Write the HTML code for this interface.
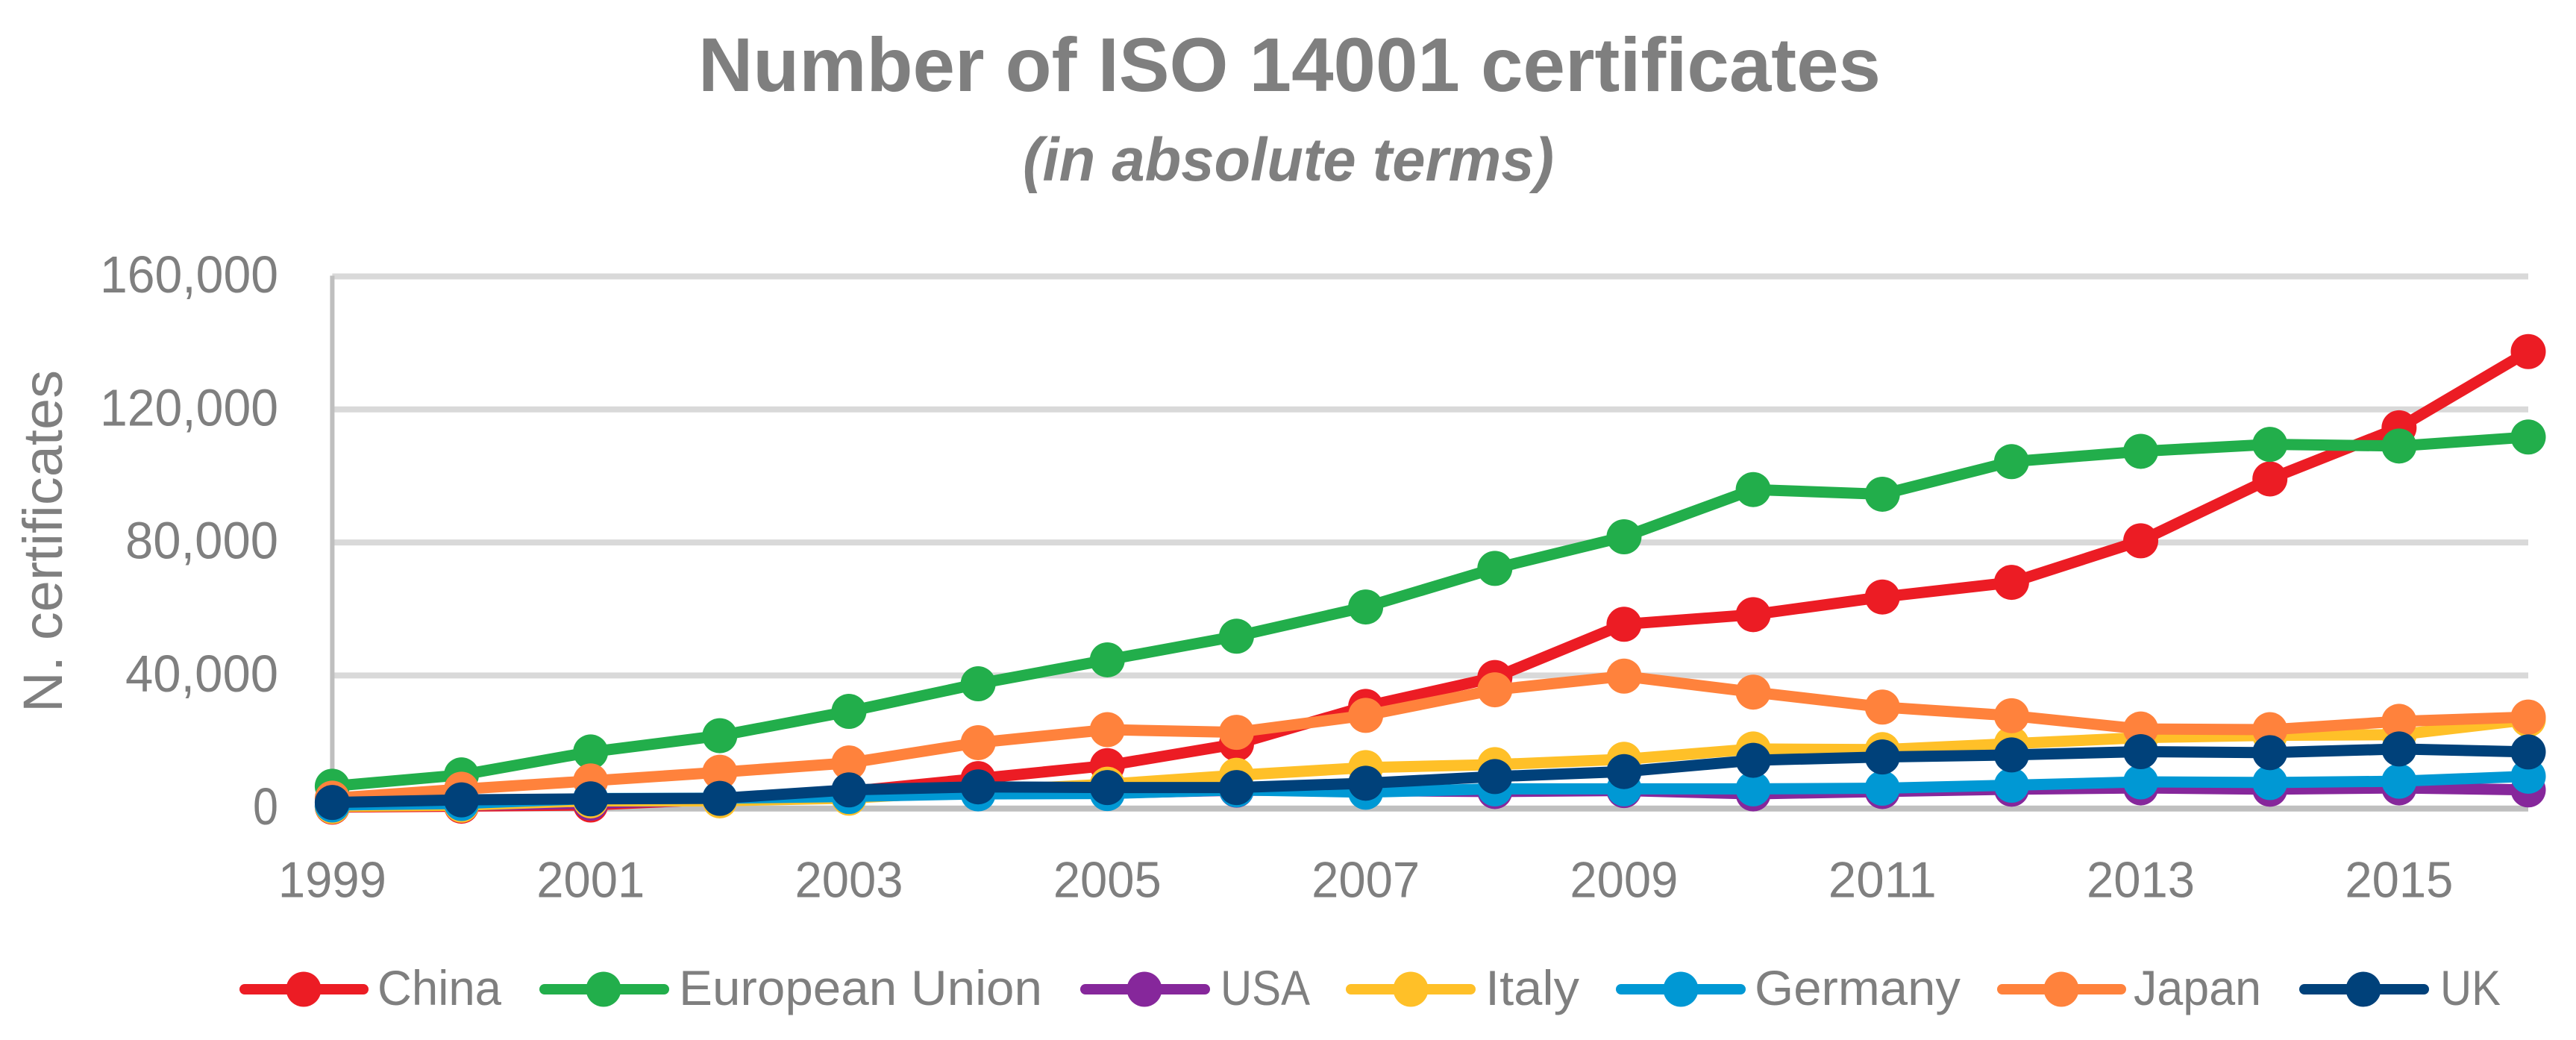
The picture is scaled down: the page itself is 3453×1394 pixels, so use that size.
<!DOCTYPE html>
<html lang="en">
<head>
<meta charset="utf-8">
<title>Number of ISO 14001 certificates</title>
<style>
html,body{margin:0;padding:0;background:#fff;width:3453px;height:1394px;overflow:hidden}
svg{display:block}
text{font-family:"Liberation Sans",sans-serif;fill:#7f7f7f}
</style>
</head>
<body>
<svg id="chart" xmlns="http://www.w3.org/2000/svg" width="3453" height="1394" viewBox="0 0 3453 1394">
  <rect width="3453" height="1394" fill="#ffffff"/>
  <text x="936" y="122" font-size="102" font-weight="700" textLength="1585" lengthAdjust="spacingAndGlyphs">Number of ISO 14001 certificates</text>
  <text x="1371" y="242" font-size="82" font-weight="700" font-style="italic" textLength="712" lengthAdjust="spacingAndGlyphs">(in absolute terms)</text>
  <text transform="translate(83,955) rotate(-90)" x="0" y="0" font-size="74" textLength="459" lengthAdjust="spacingAndGlyphs">N. certificates</text>
  <g id="grid"></g>
  <g id="yticks"></g>
  <g id="xticks"></g>
  <g id="series"></g>

  <g>
    <g>
      <line x1="328" y1="1326" x2="487" y2="1326" stroke="#ec1c24" stroke-width="14" stroke-linecap="round"/>
      <circle cx="407" cy="1326" r="23.5" fill="#ec1c24"/>
      <text x="506" y="1347" font-size="66" textLength="166" lengthAdjust="spacingAndGlyphs">China</text>
    </g>
    <g>
      <line x1="730" y1="1326" x2="890" y2="1326" stroke="#22ae4b" stroke-width="14" stroke-linecap="round"/>
      <circle cx="809" cy="1326" r="23.5" fill="#22ae4b"/>
      <text x="910" y="1347" font-size="66" textLength="487" lengthAdjust="spacingAndGlyphs">European Union</text>
    </g>
    <g>
      <line x1="1455" y1="1326" x2="1615" y2="1326" stroke="#86279b" stroke-width="14" stroke-linecap="round"/>
      <circle cx="1534" cy="1326" r="23.5" fill="#86279b"/>
      <text x="1636" y="1347" font-size="66" textLength="120" lengthAdjust="spacingAndGlyphs">USA</text>
    </g>
    <g>
      <line x1="1811" y1="1326" x2="1971" y2="1326" stroke="#ffc028" stroke-width="14" stroke-linecap="round"/>
      <circle cx="1891" cy="1326" r="23.5" fill="#ffc028"/>
      <text x="1991" y="1347" font-size="66" textLength="126" lengthAdjust="spacingAndGlyphs">Italy</text>
    </g>
    <g>
      <line x1="2173" y1="1326" x2="2333" y2="1326" stroke="#0098d4" stroke-width="14" stroke-linecap="round"/>
      <circle cx="2253" cy="1326" r="23.5" fill="#0098d4"/>
      <text x="2352" y="1347" font-size="66" textLength="276" lengthAdjust="spacingAndGlyphs">Germany</text>
    </g>
    <g>
      <line x1="2684" y1="1326" x2="2843" y2="1326" stroke="#ff823c" stroke-width="14" stroke-linecap="round"/>
      <circle cx="2763" cy="1326" r="23.5" fill="#ff823c"/>
      <text x="2860" y="1347" font-size="66" textLength="171" lengthAdjust="spacingAndGlyphs">Japan</text>
    </g>
    <g>
      <line x1="3089" y1="1326" x2="3249" y2="1326" stroke="#00417a" stroke-width="14" stroke-linecap="round"/>
      <circle cx="3168" cy="1326" r="23.5" fill="#00417a"/>
      <text x="3271" y="1347" font-size="66" textLength="81" lengthAdjust="spacingAndGlyphs">UK</text>
    </g>
  </g>
</svg>
<script>
const years = [1999,2000,2001,2002,2003,2004,2005,2006,2007,2008,2009,2010,2011,2012,2013,2014,2015,2016];
const yTickValues = [0,40000,80000,120000,160000];
const xTickLabels = [1999,2001,2003,2005,2007,2009,2011,2013,2015];
const china = [400,700,1050,2800,5100,9000,12900,19400,30700,39400,55400,58300,63600,68000,80500,99100,114500,137400];
const europeanUnion = [6700,10100,17000,21900,29200,37500,44700,51800,60600,72200,81700,95900,94500,104300,107400,109500,109000,111700];
const usa = [600,1000,1600,2600,3500,4700,4600,5500,5400,5100,5400,4400,5100,5800,6200,5800,6200,5600];
const italy = [600,1000,2300,2300,3100,5300,7300,10000,12300,13200,14800,17900,17700,19500,21300,22000,22200,26700];
const germany = [1050,1500,3000,3100,3600,4400,4500,5600,4900,5900,5900,5900,6100,7000,8000,7800,8200,9700];
const japan = [3100,5800,8300,10900,13700,19800,23700,22900,28000,35700,39800,35000,30500,27900,23900,23700,26200,27500];
const uk = [1800,2600,2900,3050,5600,6500,6300,6300,7600,9600,11100,14500,15500,16100,17100,16800,17900,17000];

const seriesNames = ['china','european-union','usa','italy','germany','japan','uk'];
const seriesValues = [china,europeanUnion,usa,italy,germany,japan,uk];
const seriesColors = ['#ec1c24','#22ae4b','#86279b','#ffc028','#0098d4','#ff823c','#00417a'];

const NS = 'http://www.w3.org/2000/svg';
const plotLeft = 445.4, plotRight = 3389, plotBottom = 1083.7, plotTop = 370.5, yMax = 160000;
const xScale = year => plotLeft + (year - years[0]) * (plotRight - plotLeft) / (years[years.length - 1] - years[0]);
const yScale = value => plotBottom - value * (plotBottom - plotTop) / yMax;
const fmt = value => String(value).replace(/\B(?=(\d{3})+$)/g, ',');

function make(tag, attrs, parent) {
  const el = document.createElementNS(NS, tag);
  Object.keys(attrs).forEach(k => el.setAttribute(k, attrs[k]));
  parent.appendChild(el);
  return el;
}

const gridG = document.getElementById('grid');
const yG = document.getElementById('yticks');
const xG = document.getElementById('xticks');
const seriesG = document.getElementById('series');

yTickValues.forEach(v => {
  if (v === 0) return;
  const g = make('line', {x1: plotLeft, x2: plotRight, y1: yScale(v), y2: yScale(v), stroke: '#d9d9d9', 'stroke-width': 8}, gridG);
  
  
});

const yAxisLine = make('line', {x1: plotLeft, x2: plotLeft, y1: plotTop - 1, y2: plotBottom + 4, stroke: '#bfbfbf', 'stroke-width': 6}, gridG);



const xAxisLine = make('line', {x1: plotLeft, x2: plotRight, y1: plotBottom, y2: plotBottom, stroke: '#bfbfbf', 'stroke-width': 8}, gridG);



yTickValues.forEach(v => {
  const label = fmt(v);
  const digits = label.replace(/,/g, '').length;
  const commas = label.length - digits;
  const t = make('text', {x: 373, y: yScale(v) + 21.5, 'font-size': 70, 'text-anchor': 'end', textLength: digits * 34 + commas * 35, lengthAdjust: 'spacingAndGlyphs'}, yG);
  t.textContent = label;
  
  
});

xTickLabels.forEach(y => {
  const t = make('text', {x: xScale(y), y: 1202.5, 'font-size': 68, 'text-anchor': 'middle', textLength: 145, lengthAdjust: 'spacingAndGlyphs'}, xG);
  t.textContent = String(y);
  
  
});

seriesValues.forEach((vals, i) => {
  const g = make('g', {}, seriesG);
  
  
  const pts = vals.map((v, j) => xScale(years[j]) + ',' + yScale(v)).join(' ');
  const line = make('polyline', {points: pts, fill: 'none', stroke: seriesColors[i], 'stroke-width': 15, 'stroke-linejoin': 'round'}, g);
  
  
  vals.forEach((v, j) => {
    const c = make('circle', {cx: xScale(years[j]), cy: yScale(v), r: 23.5, fill: seriesColors[i]}, g);
    
    
  });
});
</script>
</body>
</html>
